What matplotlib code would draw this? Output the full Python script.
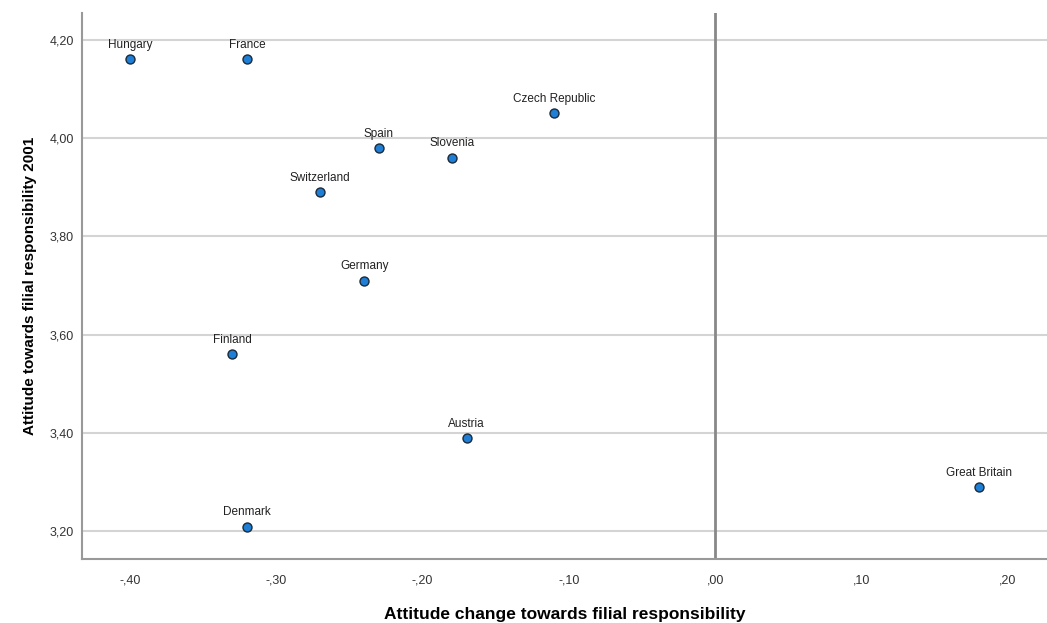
import numpy as np
import matplotlib
matplotlib.use("Agg")
import matplotlib.pyplot as plt
from matplotlib.ticker import FuncFormatter

countries = ["Hungary", "France", "Czech Republic", "Spain", "Slovenia",
             "Switzerland", "Germany", "Finland", "Austria", "Denmark",
             "Great Britain"]
change = [-0.40, -0.32, -0.11, -0.23, -0.18, -0.27, -0.24, -0.33, -0.17, -0.32, 0.18]
attitude_2001 = [4.16, 4.16, 4.05, 3.98, 3.96, 3.89, 3.71, 3.56, 3.39, 3.21, 3.29]

x_ticks = [-0.40, -0.30, -0.20, -0.10, 0.00, 0.10, 0.20]
y_ticks = [3.20, 3.40, 3.60, 3.80, 4.00, 4.20]

plt.rcParams['font.family'] = ['Liberation Sans', 'DejaVu Sans']


def spss_fmt(v, pos):
    s = "%.2f" % v
    if s.startswith("-0"):
        s = "-" + s[2:]
    elif s.startswith("0"):
        s = s[1:]
    return s.replace(".", ",")


fig = plt.figure(figsize=(10.47, 6.23), dpi=100)
ax = fig.add_axes([0.0783, 0.1027, 0.9217, 0.8763])

ax.set_xlim(-0.4328, 0.2266)
ax.set_ylim(3.144, 4.254)
ax.set_xticks(x_ticks)
ax.set_yticks(y_ticks)
ax.xaxis.set_major_formatter(FuncFormatter(spss_fmt))
ax.yaxis.set_major_formatter(FuncFormatter(spss_fmt))
ax.tick_params(length=0, labelsize=9, colors="#333333")
ax.tick_params(axis="x", pad=11)
ax.tick_params(axis="y", pad=6)

ax.grid(axis="y", color="#d4d4d4", linewidth=1.5)
ax.set_axisbelow(True)
ax.axvline(0, color="#888888", linewidth=2, zorder=1)

for s in ["top", "right"]:
    ax.spines[s].set_visible(False)
for s in ["left", "bottom"]:
    ax.spines[s].set_color("#999999")
    ax.spines[s].set_linewidth(1.5)

ax.scatter(change, attitude_2001, s=42, color="#1f7fd6",
           edgecolor="#1a2a3a", linewidth=1.0, zorder=3)
for name, x, y in zip(countries, change, attitude_2001):
    ax.annotate(name, (x, y), xytext=(0, 6), textcoords="offset points",
                ha="center", va="bottom", fontsize=8.5, color="#222222")

ax.set_xlabel("Attitude change towards filial responsibility",
              fontsize=12.5, fontweight="bold", labelpad=15)
ax.set_ylabel("Attitude towards filial responsibility 2001",
              fontsize=11, fontweight="bold", labelpad=9)

fig.savefig("out.png", dpi=100)
